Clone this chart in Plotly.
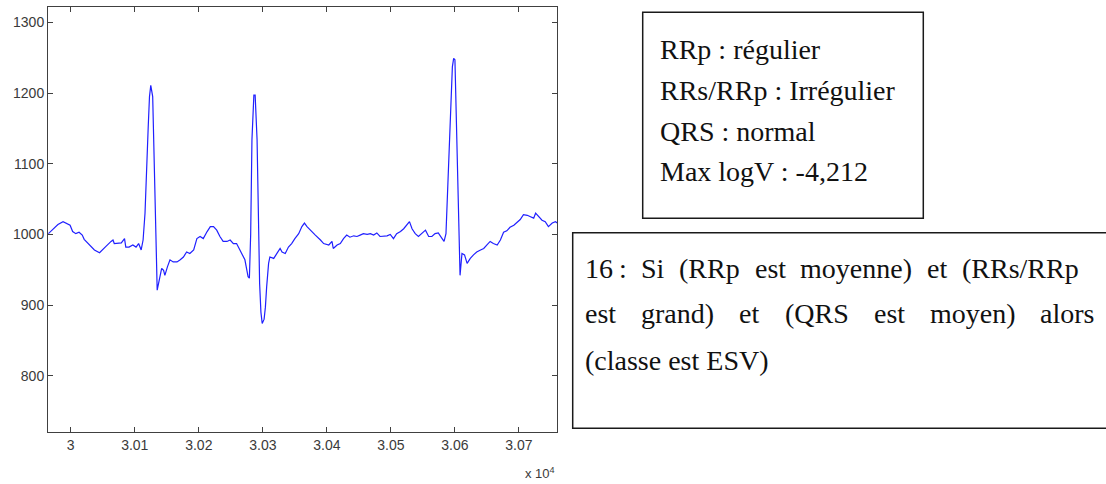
import plotly.graph_objects as go

# ---------------- data ----------------
sample = [29965, 29972, 29980, 29988, 29993, 29999, 30003, 30008, 30013, 30018,
          30021, 30027, 30032, 30037, 30045, 30050, 30055, 30063, 30066, 30068,
          30073, 30079, 30084, 30086, 30091, 30097, 30102, 30106, 30110, 30113,
          30116, 30119, 30121, 30123, 30125, 30128, 30130, 30133, 30135, 30138,
          30142, 30145, 30147, 30151, 30155, 30160, 30166, 30171, 30176, 30181,
          30186, 30192, 30197, 30202, 30207, 30213, 30218, 30223, 30228, 30233,
          30238, 30244, 30249, 30254, 30259, 30263, 30267, 30272, 30277, 30279,
          30281, 30283, 30286, 30288, 30291, 30293, 30295, 30297, 30299, 30302,
          30304, 30306, 30309, 30311, 30317, 30322, 30327, 30330, 30335, 30340,
          30345, 30350, 30356, 30361, 30365, 30369, 30374, 30382, 30390, 30395,
          30403, 30408, 30410, 30416, 30421, 30426, 30431, 30436, 30442, 30447,
          30452, 30457, 30463, 30468, 30473, 30478, 30483, 30488, 30494, 30499,
          30504, 30509, 30515, 30520, 30525, 30529, 30533, 30538, 30543, 30548,
          30554, 30559, 30564, 30569, 30574, 30580, 30583, 30586, 30588, 30590,
          30594, 30596, 30598, 30600, 30602, 30605, 30607, 30608, 30611, 30615,
          30619, 30624, 30629, 30634, 30640, 30645, 30650, 30655, 30660, 30666,
          30671, 30676, 30681, 30686, 30692, 30697, 30702, 30707, 30713, 30718,
          30723, 30726, 30731, 30736, 30741, 30746, 30752, 30757, 30760]

amplitude = [1001, 1007, 1014, 1018, 1016, 1013, 1004, 1001, 1003, 999,
             993, 987, 983, 978, 974, 978, 983, 990, 992, 987,
             987, 988, 994, 982, 982, 985, 982, 987, 978, 992,
             1030, 1119, 1152, 1195, 1211, 1195, 1101, 1000, 921, 935,
             952, 949, 942, 954, 964, 961, 961, 964, 968, 975,
             973, 978, 994, 997, 994, 1004, 1011, 1011, 1006, 997,
             990, 990, 992, 987, 987, 980, 973, 964, 940, 938,
             1000, 1134, 1197, 1197, 1134, 1000, 930, 890, 874, 880,
             897, 926, 959, 968, 966, 973, 980, 975, 973, 982,
             987, 994, 1001, 1011, 1016, 1011, 1006, 999, 992, 987,
             985, 990, 980, 985, 987, 994, 999, 996, 998, 997,
             999, 1001, 1000, 1001, 999, 1002, 997, 997, 998, 1000,
             994, 1001, 1004, 1008, 1013, 1018, 1008, 1001, 997, 1001,
             1006, 997, 997, 1001, 1002, 994, 990, 1001, 1050, 1119,
             1190, 1237, 1249, 1247, 1167, 1049, 980, 942, 973, 971,
             959, 966, 971, 975, 978, 980, 985, 990, 987, 985,
             992, 1003, 1005, 1010, 1013, 1017, 1021, 1028, 1027, 1025,
             1023, 1030, 1025, 1020, 1018, 1011, 1016, 1018, 1016]

x_tick_values = [30000, 30100, 30200, 30300, 30400, 30500, 30600, 30700]
x_tick_labels = ["3", "3.01", "3.02", "3.03", "3.04", "3.05", "3.06", "3.07"]
y_tick_values = [800, 900, 1000, 1100, 1200, 1300]
y_tick_labels = ["800", "900", "1000", "1100", "1200", "1300"]

info_lines = ["RRp : régulier", "RRs/RRp : Irrégulier", "QRS : normal", "Max logV : -4,212"]
rule_lines = [["16", ":", "Si", "(RRp", "est", "moyenne)", "et", "(RRs/RRp"],
              ["est", "grand)", "et", "(QRS", "est", "moyen)", "alors"],
              ["(classe est ESV)"]]

# ---------------- layout geometry (pixels) ----------------
W, H = 1106, 484
ML, MR, MT, MB = 48, 549, 7, 52
PW, PH = W - ML - MR, H - MT - MB


def px(x):
    return (x - ML) / PW


def py(y):
    return (H - MB - y) / PH


fig = go.Figure()
fig.add_trace(go.Scatter(x=sample, y=amplitude, mode="lines",
                         line=dict(color="#2020ff", width=1.2),
                         hoverinfo="skip", showlegend=False))

axis_common = dict(showline=True, linecolor="#404040", linewidth=1, mirror="ticks",
                   ticks="inside", ticklen=5, tickcolor="#404040", showgrid=False,
                   zeroline=False, tickfont=dict(family="Liberation Sans, Arial", size=14,
                                                 color="#3a3a3a"))
fig.update_xaxes(range=[29964.5, 30759.4], tickvals=x_tick_values, ticktext=x_tick_labels,
                 **axis_common)
fig.update_yaxes(range=[720.3, 1321.8], tickvals=y_tick_values, ticktext=y_tick_labels,
                 **axis_common)

shapes = []
annotations = []
# exponent label
annotations.append(dict(x=px(557), y=py(473), xref="paper", yref="paper", xanchor="right",
                        yanchor="middle", showarrow=False, text="x 10<sup>4</sup>",
                        font=dict(family="Liberation Sans, Arial", size=13, color="#3a3a3a")))

# info box
shapes.append(dict(type="rect", xref="paper", yref="paper", x0=px(642.7), x1=px(923.3),
                   y0=py(218.3), y1=py(12.3), line=dict(color="#1a1a1a", width=1.5)))
serif = dict(family="Liberation Serif, Times New Roman", size=28, color="#111111")
for i, t in enumerate(info_lines):
    annotations.append(dict(x=px(658), y=py(49 + 41 * i), xref="paper", yref="paper",
                            xanchor="left", yanchor="middle", showarrow=False, text=t,
                            font=serif))

# rule box (extends past right edge)
shapes.append(dict(type="rect", xref="paper", yref="paper", x0=px(572.7), x1=px(1120),
                   y0=py(428.3), y1=py(232.7), line=dict(color="#1a1a1a", width=1.5)))
word_x = [[583, 617, 639.4, 677.4, 752.7, 798.4, 925, 959.8],
          [583, 639.2, 737.4, 782.7, 871.6, 927.8, 1038.4],
          [583]]
line_y = [268, 313, 360]
for words, xs, yy in zip(rule_lines, word_x, line_y):
    for w, xx in zip(words, xs):
        annotations.append(dict(x=px(xx), y=py(yy), xref="paper", yref="paper",
                                xanchor="left", yanchor="middle", showarrow=False, text=w,
                                font=serif))

fig.update_layout(width=W, height=H, margin=dict(l=ML, r=MR, t=MT, b=MB),
                  paper_bgcolor="white", plot_bgcolor="white",
                  shapes=shapes, annotations=annotations)

fig.write_html("out.html")
